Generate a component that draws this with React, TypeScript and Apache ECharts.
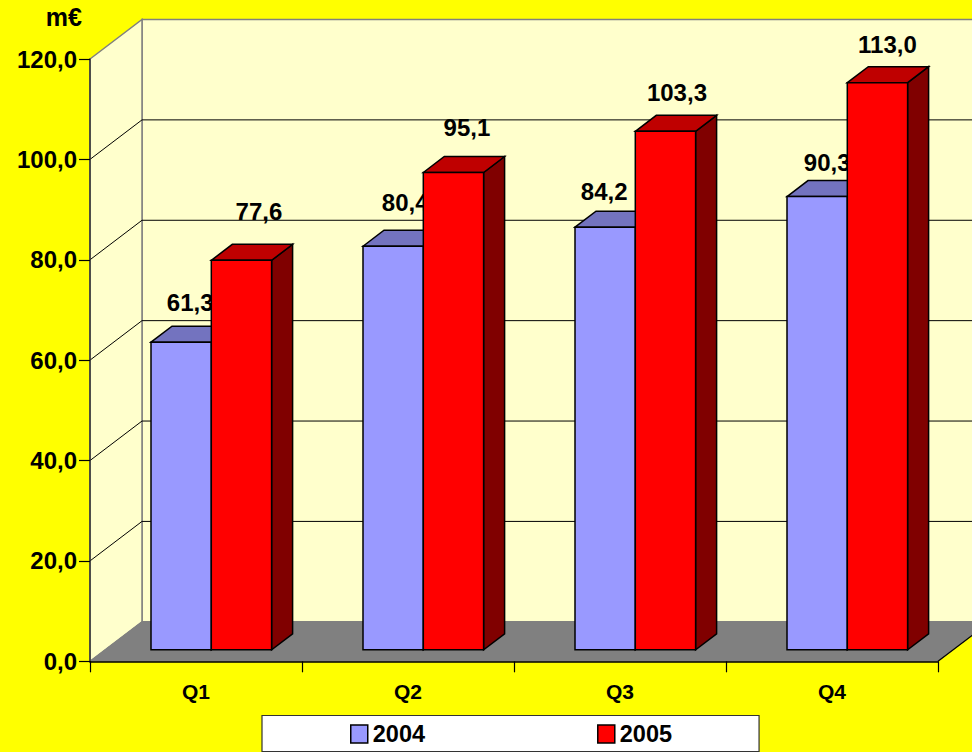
import React, { useEffect, useRef } from "react";
import * as echarts from "echarts";

const quarters = ["Q1", "Q2", "Q3", "Q4"];
const values2004 = [61.3, 80.4, 84.2, 90.3];
const values2005 = [77.6, 95.1, 103.3, 113.0];
const yTicks = [0, 20, 40, 60, 80, 100, 120];

// Hand-placed label nudges relative to each bar's top-centre (as moved in the original)
const labelNudge2004 = [[9, -39.7], [12, -43.7], [-1, -35.7], [10, -34.2]];
const labelNudge2005 = [[17.5, -48.7], [13.5, -44.7], [11.5, -38.7], [10, -37.7]];

const DEPTH_X = 52;
const DEPTH_Y = -39.5;
const BAR_SHIFT_X = 15.3;
const BAR_SHIFT_Y = -11.5;
const BAR_W = 60.3;
const BAR_DX = 21;
const BAR_DY = -16;
const FONT = "'Liberation Sans', Arial, sans-serif";
const fmt = (v: number) => v.toFixed(1).replace(".", ",");

const renderWalls = (params: any, api: any) => {
  const cs = params.coordSys;
  const left = cs.x;
  const right = cs.x + cs.width;
  const tick = api.value(1);
  const y = api.coord([0, tick])[1];
  const y0 = api.coord([0, 0])[1];
  const yTop = api.coord([0, yTicks[yTicks.length - 1]])[1];
  const children: any[] = [];
  if (params.dataIndex === 0) {
    children.push(
      {
        type: "polygon",
        shape: { points: [[left + DEPTH_X, yTop + DEPTH_Y], [right + DEPTH_X, yTop + DEPTH_Y], [right + DEPTH_X, y0 + DEPTH_Y], [left + DEPTH_X, y0 + DEPTH_Y]] },
        style: { fill: "#FFFFCC", stroke: "#808080", lineWidth: 1.5 },
      },
      {
        type: "polygon",
        shape: { points: [[left, yTop], [left + DEPTH_X, yTop + DEPTH_Y], [left + DEPTH_X, y0 + DEPTH_Y], [left, y0]] },
        style: { fill: "#FFFFCC", stroke: "#808080", lineWidth: 1.5 },
      },
      {
        type: "polygon",
        shape: { points: [[left, y0], [left + DEPTH_X, y0 + DEPTH_Y], [right + DEPTH_X, y0 + DEPTH_Y], [right, y0]] },
        style: { fill: "#808080", stroke: "#808080", lineWidth: 1 },
      },
      {
        type: "line",
        shape: { x1: right, y1: y0, x2: right + DEPTH_X, y2: y0 + DEPTH_Y },
        style: { stroke: "#000", lineWidth: 1.2 },
      }
    );
  }
  if (tick > 0 && tick < yTicks[yTicks.length - 1]) {
    children.push(
      {
        type: "line",
        shape: { x1: left, y1: y, x2: left + DEPTH_X, y2: y + DEPTH_Y },
        style: { stroke: "#000", lineWidth: 1 },
      },
      {
        type: "line",
        shape: { x1: left + DEPTH_X, y1: y + DEPTH_Y, x2: right + DEPTH_X, y2: y + DEPTH_Y },
        style: { stroke: "#000", lineWidth: 1 },
      }
    );
  }
  return { type: "group", children };
};

const makeBarRenderer = (side: -1 | 1, front: string, top: string, dark: string, nudges: number[][]) => (params: any, api: any) => {
  const cat = api.value(0);
  const val = api.value(1);
  const pTop = api.coord([cat, val]);
  const pBase = api.coord([cat, 0]);
  const x0 = pTop[0] + BAR_SHIFT_X + (side < 0 ? -BAR_W : 0);
  const x1 = x0 + BAR_W;
  const yT = pTop[1] + BAR_SHIFT_Y;
  const yB = pBase[1] + BAR_SHIFT_Y;
  const nudge = nudges[params.dataIndex];
  const edge = { stroke: "#000", lineWidth: 1.5, lineJoin: "miter" };
  return {
    type: "group",
    children: [
      {
        type: "text",
        x: (x0 + x1) / 2 + nudge[0],
        y: yT + nudge[1],
        style: { text: fmt(val), fill: "#000", fontFamily: FONT, fontWeight: "bold", fontSize: 24, align: "center", verticalAlign: "middle" },
      },
      {
        type: "polygon",
        shape: { points: [[x1, yT], [x1 + BAR_DX, yT + BAR_DY], [x1 + BAR_DX, yB + BAR_DY], [x1, yB]] },
        style: { fill: dark, ...edge },
      },
      {
        type: "polygon",
        shape: { points: [[x0, yT], [x0 + BAR_DX, yT + BAR_DY], [x1 + BAR_DX, yT + BAR_DY], [x1, yT]] },
        style: { fill: top, ...edge },
      },
      {
        type: "polygon",
        shape: { points: [[x0, yT], [x1, yT], [x1, yB], [x0, yB]] },
        style: { fill: front, ...edge },
      },
    ],
  };
};

export default function App() {
  const ref = useRef<HTMLDivElement>(null);
  useEffect(() => {
    document.body.style.margin = "0";
    const chart = echarts.init(ref.current!, null, { renderer: "svg" });
    chart.setOption({
      animation: false,
      backgroundColor: "#FFFF00",
      textStyle: { fontFamily: FONT },
      grid: { left: 90, top: 59, width: 848, height: 602.3, containLabel: false },
      legend: {
        data: [{ name: "2004", icon: "rect" }, { name: "2005", icon: "rect" }],
        left: 262,
        top: 715.5,
        orient: "horizontal",
        padding: [6.5, 87, 5.5, 88],
        itemGap: 172,
        itemWidth: 17,
        itemHeight: 18,
        backgroundColor: "#FFFFFF",
        borderColor: "#333",
        borderWidth: 1.2,
        itemStyle: { borderColor: "#000", borderWidth: 1.5 },
        textStyle: { color: "#000", fontFamily: FONT, fontWeight: "bold", fontSize: 23.5 },
        selectedMode: false,
      },
      xAxis: {
        type: "category",
        data: quarters,
        z: 5,
        axisLine: { lineStyle: { color: "#000", width: 1.5 } },
        axisTick: { show: true, alignWithLabel: false, length: 11, lineStyle: { color: "#000", width: 1.2 } },
        axisLabel: { color: "#000", fontFamily: FONT, fontWeight: "bold", fontSize: 21, margin: 20 },
        splitLine: { show: false },
      },
      yAxis: {
        type: "value",
        min: 0,
        max: 120,
        interval: 20,
        z: 5,
        name: "m€",
        nameGap: 30,
        nameTextStyle: { color: "#000", fontFamily: FONT, fontWeight: "bold", fontSize: 25, align: "right", padding: [0, 8, 0, 0] },
        axisLine: { show: true, lineStyle: { color: "#333", width: 1.5 } },
        axisTick: { show: true, length: 11, lineStyle: { color: "#000", width: 1.2 } },
        axisLabel: { color: "#000", fontFamily: FONT, fontWeight: "bold", fontSize: 24, margin: 13, formatter: (v: number) => fmt(v) },
        splitLine: { show: false },
      },
      series: [
        {
          type: "custom",
          name: "walls",
          z: 1,
          silent: true,
          clip: false,
          renderItem: renderWalls,
          data: yTicks.map((t) => [0, t]),
          encode: { x: 0, y: 1 },
        },
        {
          type: "custom",
          name: "2004",
          z: 2,
          clip: false,
          itemStyle: { color: "#9999FF" },
          renderItem: makeBarRenderer(-1, "#9999FF", "#7373BF", "#4D4D80", labelNudge2004),
          data: values2004.map((v, i) => [i, v]),
          encode: { x: 0, y: 1 },
        },
        {
          type: "custom",
          name: "2005",
          z: 3,
          clip: false,
          itemStyle: { color: "#FF0000" },
          renderItem: makeBarRenderer(1, "#FF0000", "#BF0000", "#800000", labelNudge2005),
          data: values2005.map((v, i) => [i, v]),
          encode: { x: 0, y: 1 },
        },
      ],
    });
    return () => chart.dispose();
  }, []);
  return <div ref={ref} style={{ width: 972, height: 752, overflow: "hidden" }} />;
}
